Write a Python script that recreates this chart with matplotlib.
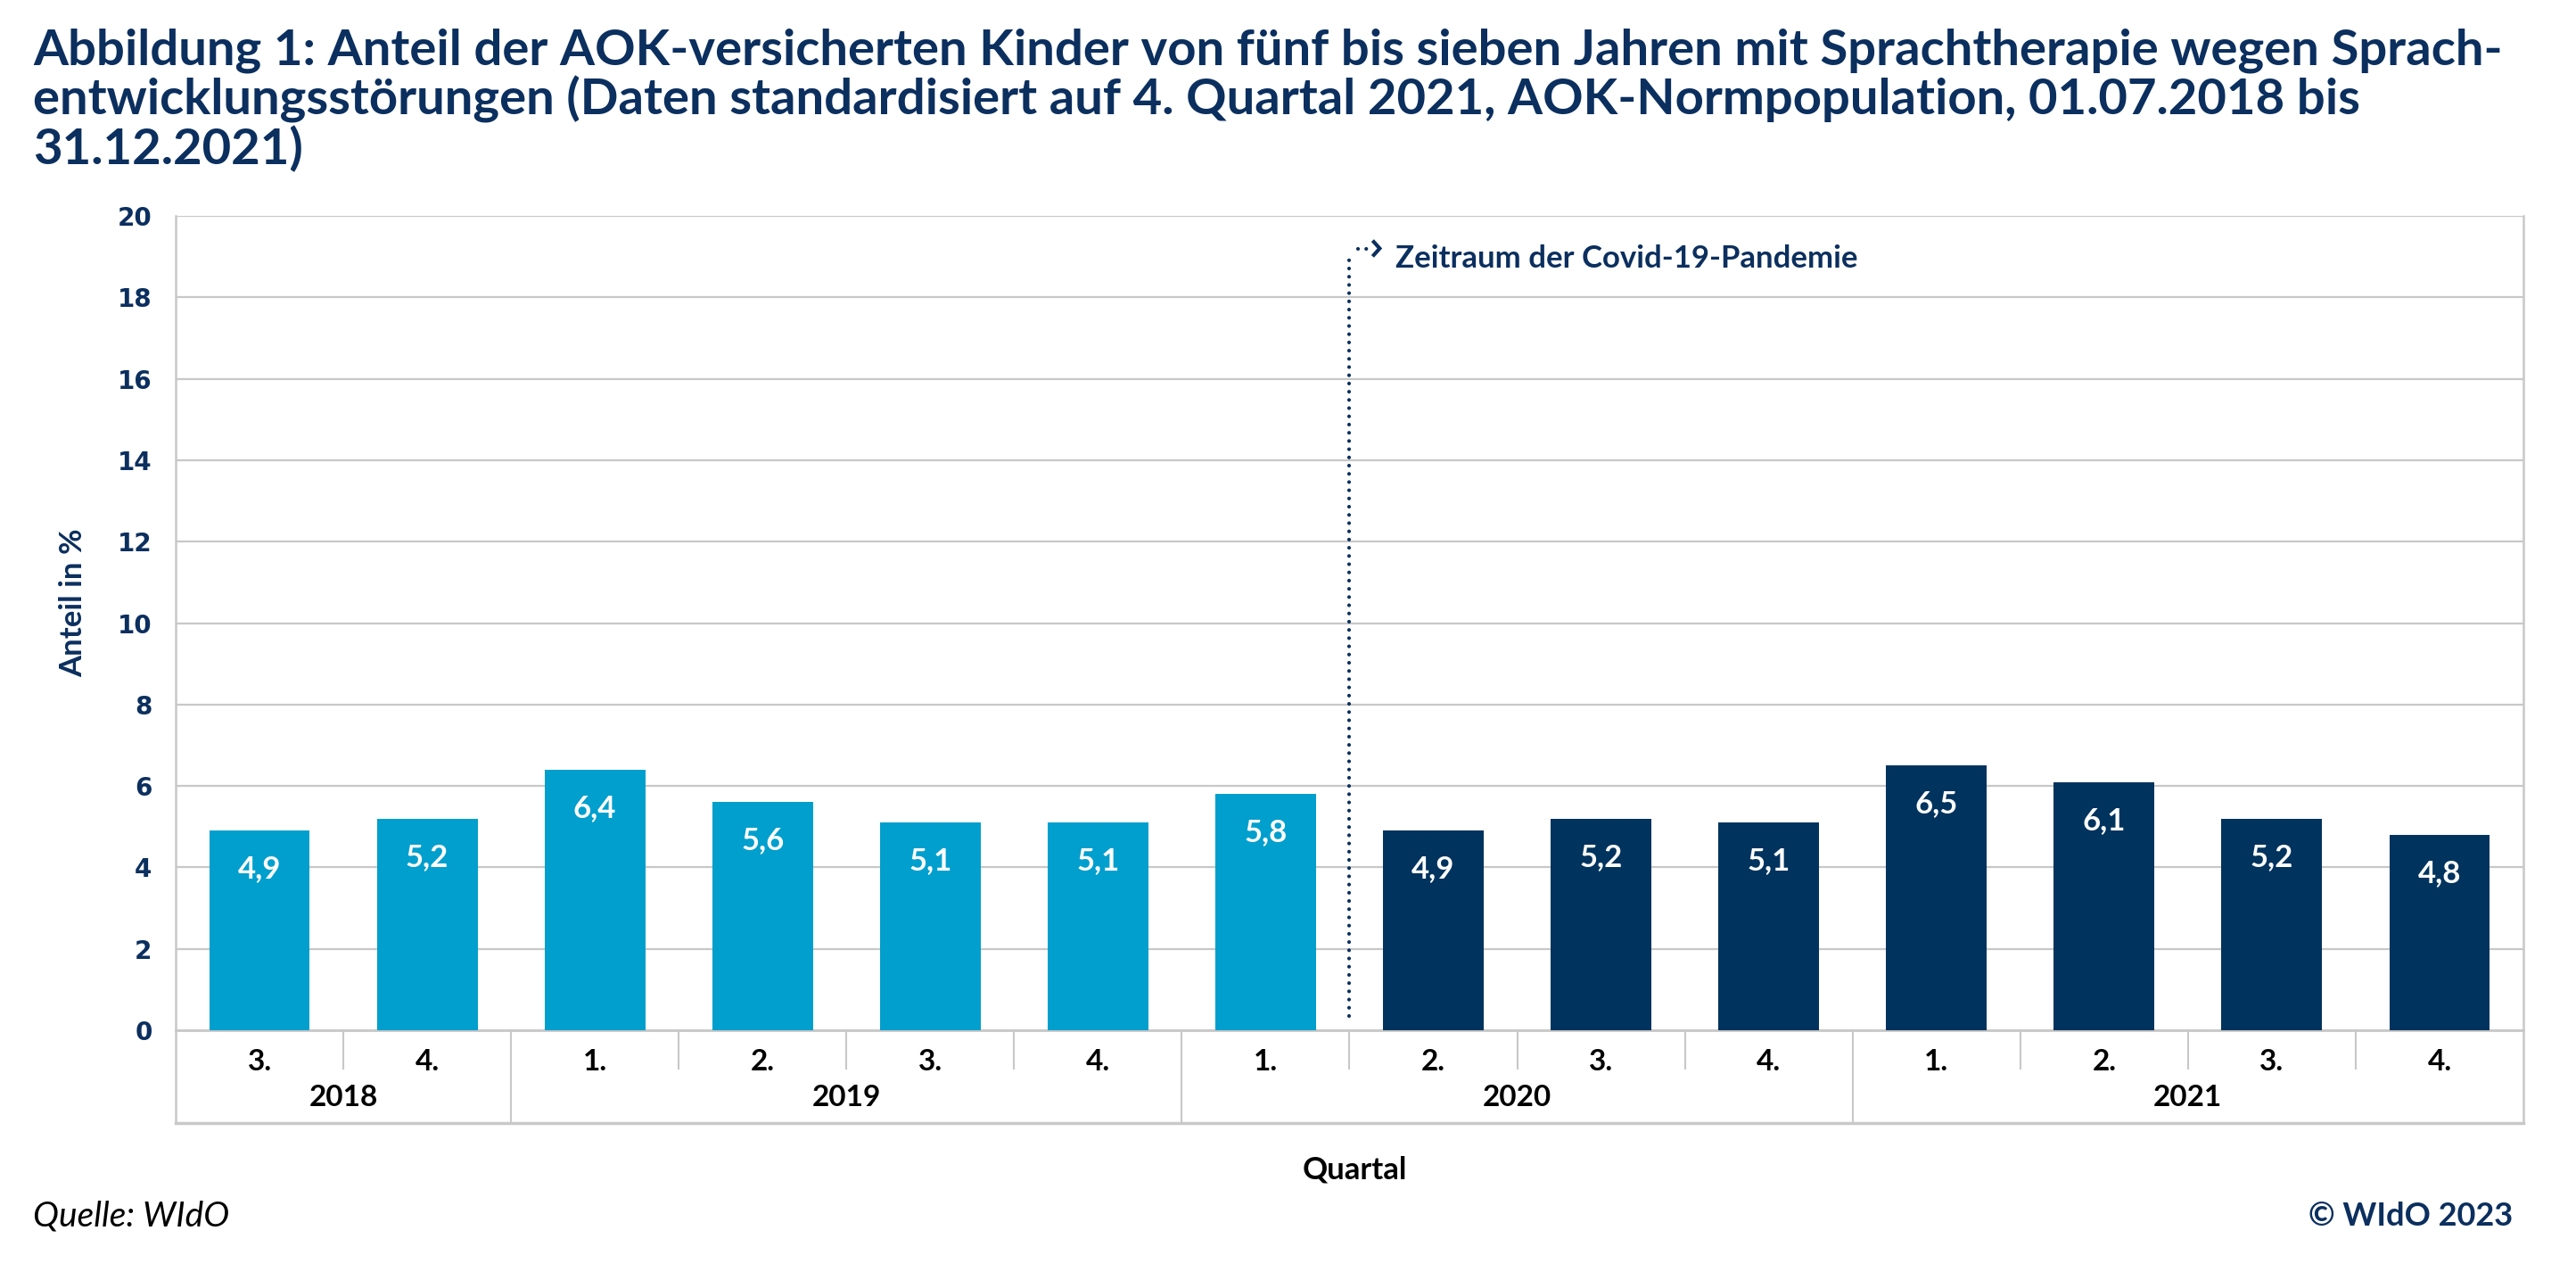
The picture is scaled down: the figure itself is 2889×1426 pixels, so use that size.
import matplotlib
matplotlib.use("Agg")
import matplotlib.pyplot as plt
import matplotlib.transforms as mtransforms

# data
quarters = ["3.", "4.", "1.", "2.", "3.", "4.", "1.",
            "2.", "3.", "4.", "1.", "2.", "3.", "4."]
years = ["2018", "2019", "2020", "2021"]
quarters_per_year = [2, 4, 4, 4]
values = [4.9, 5.2, 6.4, 5.6, 5.1, 5.1, 5.8,
          4.9, 5.2, 5.1, 6.5, 6.1, 5.2, 4.8]
n_before_covid = 7

title_lines = [
    "Abbildung 1: Anteil der AOK-versicherten Kinder von fünf bis sieben Jahren mit Sprachtherapie wegen Sprach-",
    "entwicklungsstörungen (Daten standardisiert auf 4. Quartal 2021, AOK-Normpopulation, 01.07.2018 bis",
    "31.12.2021)",
]

NAVY = "#0b2f5e"
LIGHT = "#009fcd"
DARK = "#00335e"
GRID = "#c8c8c8"
W, H = 2889, 1426

plt.rcParams["font.family"] = ["Lato", "DejaVu Sans"]

fig = plt.figure(figsize=(W / 100, H / 100), dpi=100)
ax = fig.add_axes([197 / W, 1 - 1155 / H, (2830 - 197) / W, (1155 - 242) / H])

x = list(range(len(values)))
colors = [LIGHT if i < n_before_covid else DARK for i in x]
ax.bar(x, values, width=0.6, color=colors, zorder=3)

for xi, v in zip(x, values):
    ax.annotate(f"{v:.1f}".replace(".", ","), (xi, v), xytext=(0, -31),
                textcoords="offset points", ha="center", va="center",
                color="white", fontsize=25, fontweight="bold", zorder=4)

ax.set_xlim(-0.5, len(values) - 0.5)
ax.set_ylim(0, 20)
ax.set_yticks(range(0, 21, 2))
ax.tick_params(axis="y", length=0, pad=19, labelsize=20, labelcolor=NAVY)
for lab in ax.get_yticklabels():
    lab.set_fontfamily("DejaVu Sans")
    lab.set_fontweight("bold")
ax.set_xticks([])
ax.grid(axis="y", color=GRID, linewidth=1.6, zorder=0)
for s in ax.spines.values():
    s.set_visible(False)

# frame around plot and category area
bottom = (1155 - 1259) / (1155 - 242)
qsep = (1155 - 1198) / (1155 - 242)
for xa in (0, 1):
    ax.plot([xa, xa], [1, bottom], color=GRID, lw=1.8, transform=ax.transAxes, clip_on=False)
ax.plot([0, 1], [bottom, bottom], color=GRID, lw=2.5, transform=ax.transAxes, clip_on=False)
ax.plot([0, 1], [0, 0], color=GRID, lw=2.0, transform=ax.transAxes, clip_on=False)

trans = mtransforms.blended_transform_factory(ax.transData, ax.transAxes)
year_edges = []
pos = 0
for n in quarters_per_year[:-1]:
    pos += n
    year_edges.append(pos - 0.5)
for i in range(1, len(values)):
    b = i - 0.5
    y0 = bottom if b in year_edges else qsep
    ax.plot([b, b], [0, y0], color=GRID, lw=1.5, transform=trans, clip_on=False)

qy = (1155 - 1191) / (1155 - 242)
yy = (1155 - 1230) / (1155 - 242)
for xi, q in zip(x, quarters):
    ax.text(xi, qy, q, transform=trans, ha="center", va="center",
            fontsize=24, fontweight="bold", color="black")
start = 0
for yr, n in zip(years, quarters_per_year):
    ax.text(start + (n - 1) / 2, yy, yr, transform=trans, ha="center", va="center",
            fontsize=24, fontweight="bold", color="black")
    start += n

# pandemic marker
xb = n_before_covid - 0.5
ax.plot([xb, xb], [0.35, 19.1], color=NAVY, lw=3,
        linestyle=(0, (0.01, 2.2)), dash_capstyle="round", zorder=5)
ax.plot([xb + 0.05, xb + 0.12], [19.2, 19.2], color=NAVY, lw=3,
        linestyle=(0, (0.01, 2.2)), dash_capstyle="round", zorder=5)
ax.plot([xb + 0.145, xb + 0.18, xb + 0.145], [19.36, 19.2, 19.04], color=NAVY,
        lw=3, solid_joinstyle="miter", zorder=5)
ax.text(xb + 0.275, 18.95, "Zeitraum der Covid-19-Pandemie", ha="left", va="center",
        fontsize=25, fontweight="bold", color=NAVY)

# titles and labels
for line, yb in zip(title_lines, [73, 128, 184]):
    fig.text(37 / W, 1 - yb / H, line, ha="left", va="baseline",
             fontsize=40.5, fontweight="bold", color=NAVY)

fig.text(82 / W, 1 - 676 / H, "Anteil in %", rotation=90, ha="center", va="center",
         fontsize=25, fontweight="bold", color=NAVY)
fig.text(1519 / W, 1 - 1312 / H, "Quartal", ha="center", va="center",
         fontsize=25, fontweight="bold", color="black")
fig.text(37 / W, 1 - 1363 / H, "Quelle: WIdO", ha="left", va="center",
         fontsize=28, style="italic", color="black")
fig.text(2818 / W, 1 - 1363 / H, "© WIdO 2023", ha="right", va="center",
         fontsize=26, fontweight="bold", color=NAVY)

fig.savefig("out.png", dpi=100)
